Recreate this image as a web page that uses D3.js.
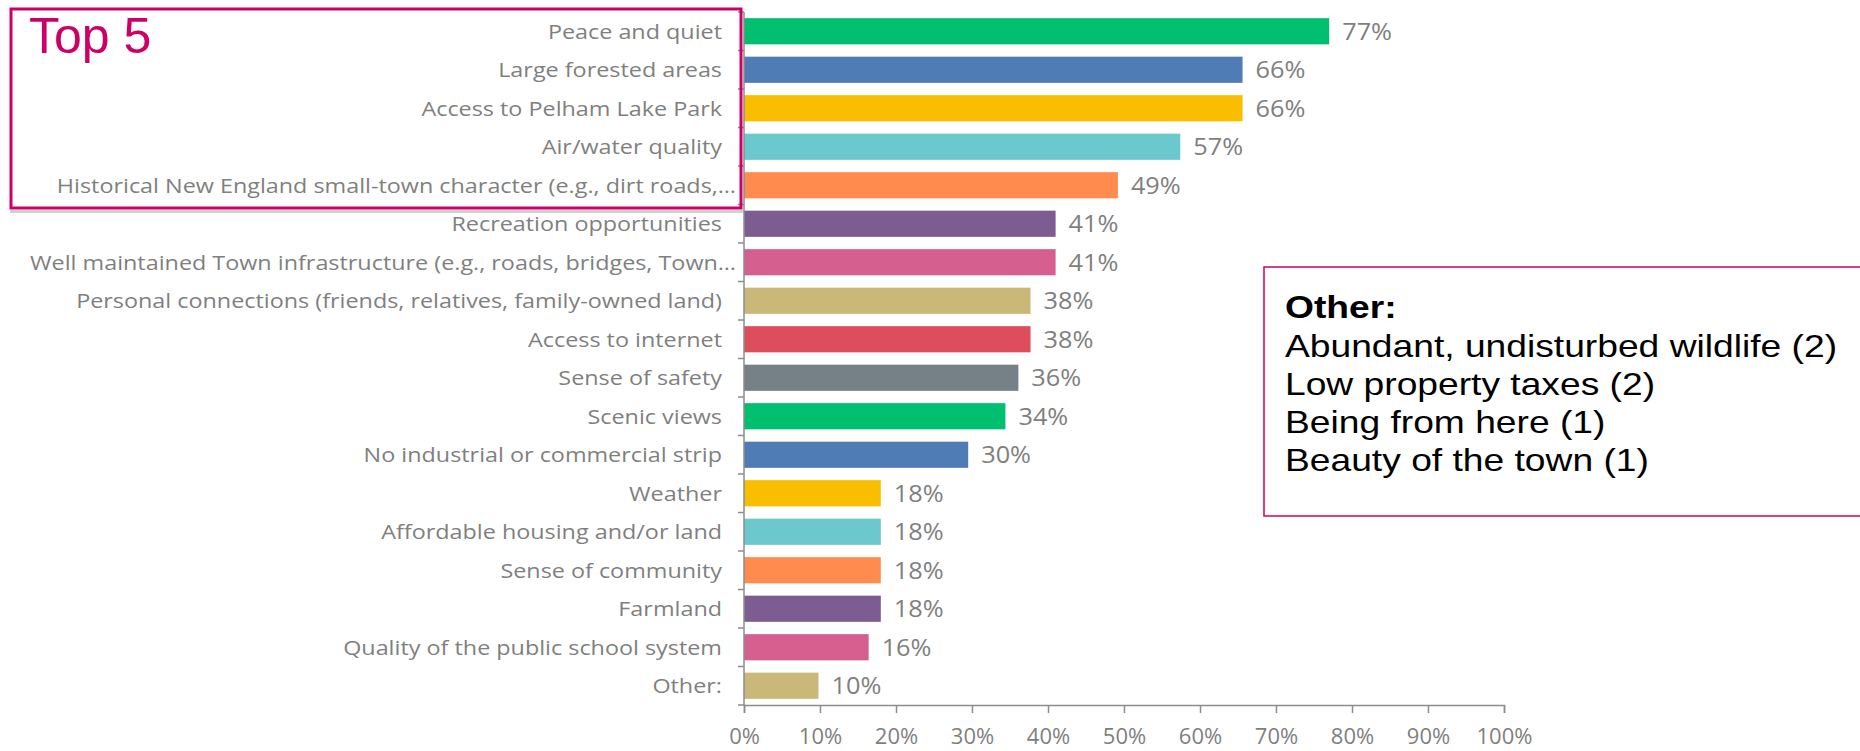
<!DOCTYPE html>
<html>
<head>
<meta charset="utf-8">
<script src="https://cdn.jsdelivr.net/npm/d3@7"></script>
<style>
  body { margin: 0; background: #fff; }
  svg text { font-family: "Open Sans", sans-serif; }
</style>
</head>
<body>
<svg id="chart" width="1860" height="751"></svg>
<script>
const categories = [
  "Peace and quiet",
  "Large forested areas",
  "Access to Pelham Lake Park",
  "Air/water quality",
  "Historical New England small-town character (e.g., dirt roads,…",
  "Recreation opportunities",
  "Well maintained Town infrastructure (e.g., roads, bridges, Town…",
  "Personal connections (friends, relatives, family-owned land)",
  "Access to internet",
  "Sense of safety",
  "Scenic views",
  "No industrial or commercial strip",
  "Weather",
  "Affordable housing and/or land",
  "Sense of community",
  "Farmland",
  "Quality of the public school system",
  "Other:"
];
const values = [77.0, 65.6, 65.6, 57.4, 49.2, 41.0, 41.0, 37.7, 37.7, 36.1, 34.4, 29.5, 18.0, 18.0, 18.0, 18.0, 16.4, 9.8];
const colors = ["#00bf6f", "#507cb6", "#f9be00", "#6bc8cd", "#ff8b4f", "#7d5c91", "#d55f8f", "#c9b877",
                "#dd4d5c", "#768087", "#00bf6f", "#507cb6", "#f9be00", "#6bc8cd", "#ff8b4f", "#7d5c91",
                "#d55f8f", "#c9b877"];
const xTicks = [0, 10, 20, 30, 40, 50, 60, 70, 80, 90, 100];
const otherTitle = "Other:";
const otherLines = [
  "Abundant, undisturbed wildlife (2)",
  "Low property taxes (2)",
  "Being from here (1)",
  "Beauty of the town (1)"
];

const svg = d3.select("#chart");
const x0 = 744, x1 = 1504, yTop = 12, yBot = 705;
const axisColor = "#8c8c8c", textColor = "#7f7f7f";

// the source picture is a bit wider than tall, so text gets a horizontal stretch
const stretch = (px, py, sx) => `translate(${px},${py}) scale(${sx},1)`;

const x = d3.scaleLinear().domain([0, 100]).range([x0, x1]);
const y = d3.scaleBand().domain(categories).range([yTop, yBot]).paddingInner(0.32).paddingOuter(0.16);

// bars
svg.append("g").selectAll("rect")
  .data(categories)
  .enter().append("rect")
    .attr("x", x(0))
    .attr("y", d => y(d))
    .attr("width", (d, i) => x(values[i]) - x(0))
    .attr("height", y.bandwidth())
    .attr("fill", (d, i) => colors[i]);

// value labels
svg.append("g").selectAll("text")
  .data(categories)
  .enter().append("text")
    .attr("transform", (d, i) => stretch(x(values[i]) + 13, y(d) + y.bandwidth() / 2, 1.1))
    .attr("dy", "0.36em")
    .attr("fill", textColor)
    .style("font-size", "23px")
    .text((d, i) => Math.round(values[i]) + "%");

// category labels (cut-off ones run a little closer to the axis, as in Excel)
svg.append("g").selectAll("text")
  .data(categories)
  .enter().append("text")
    .attr("transform", d => stretch(x0 - (d.endsWith("…") ? 8 : 22), y(d) + y.bandwidth() / 2, 1.14))
    .attr("dy", "0.36em")
    .attr("text-anchor", "end")
    .attr("fill", textColor)
    .style("font-size", "20.5px")
    .text(d => d);

// y axis line + ticks between categories
const step = (yBot - yTop) / categories.length;
svg.append("line")
  .attr("x1", x0).attr("x2", x0).attr("y1", yTop).attr("y2", yBot)
  .attr("stroke", axisColor).attr("stroke-width", 1.5);
svg.append("g").selectAll("line")
  .data(d3.range(categories.length + 1))
  .enter().append("line")
    .attr("x1", x0 - 6).attr("x2", x0)
    .attr("y1", i => yTop + i * step).attr("y2", i => yTop + i * step)
    .attr("stroke", axisColor).attr("stroke-width", 1.5);

// x axis
const xAxis = svg.append("g")
  .attr("transform", `translate(0,${yBot})`)
  .call(d3.axisBottom(x).tickValues(xTicks).tickSize(8).tickPadding(15).tickFormat(d => d + "%"));
xAxis.select(".domain").attr("stroke", axisColor).attr("stroke-width", 1.5);
xAxis.selectAll(".tick line").attr("stroke", axisColor).attr("stroke-width", 1.5);
xAxis.selectAll(".tick text")
  .attr("fill", textColor)
  .style("font-size", "22px")
  .style("font-family", "'Open Sans', sans-serif");

// Top 5 highlight box
svg.append("rect")
  .attr("x", 10).attr("y", 210).attr("width", 733).attr("height", 3)
  .attr("fill", "#d0d0d0");
svg.append("rect")
  .attr("x", 11).attr("y", 9).attr("width", 730).attr("height", 199)
  .attr("fill", "none").attr("stroke", "#cc0066").attr("stroke-width", 3);
svg.append("text")
  .attr("x", 29).attr("y", 53)
  .attr("fill", "#cc0066")
  .style("font-family", "Arial, 'Liberation Sans', sans-serif")
  .style("font-size", "50px")
  .text("Top 5");

// Other box
svg.append("rect")
  .attr("x", 1264).attr("y", 267).attr("width", 610).attr("height", 249)
  .attr("fill", "#fff").attr("stroke", "#cc0066").attr("stroke-width", 1.5);
svg.append("text")
  .attr("transform", stretch(1285, 318, 1.2))
  .style("font-family", "Arial, 'Liberation Sans', sans-serif")
  .style("font-size", "31px").style("font-weight", "bold")
  .attr("fill", "#000")
  .text(otherTitle);
svg.append("g").selectAll("text")
  .data(otherLines)
  .enter().append("text")
    .attr("transform", (d, i) => stretch(1285, 357 + i * 38, 1.2))
    .style("font-family", "Arial, 'Liberation Sans', sans-serif")
    .style("font-size", "31px")
    .attr("fill", "#000")
    .text(d => d);
</script>
</body>
</html>
